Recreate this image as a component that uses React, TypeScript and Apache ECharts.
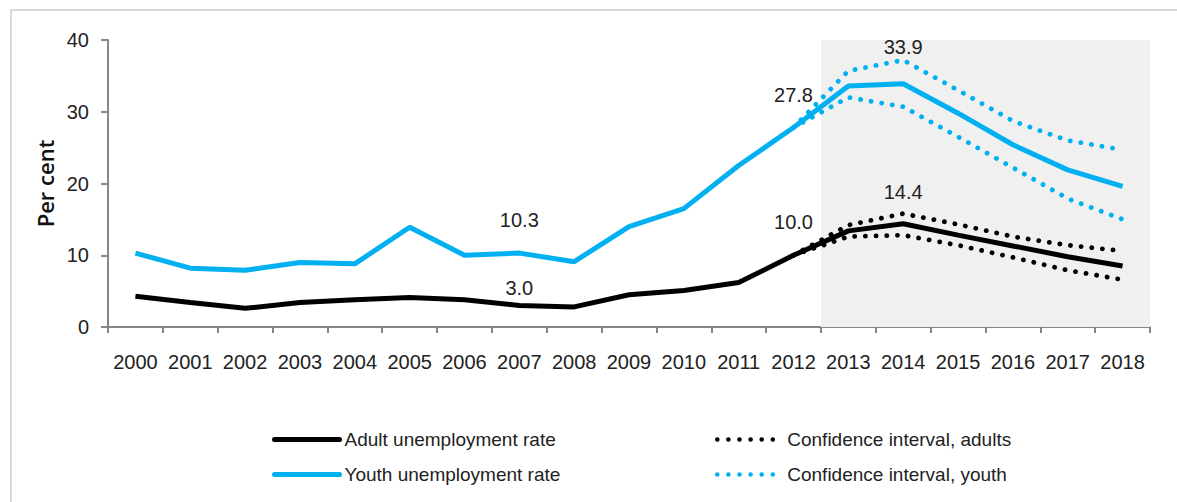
import React, { useEffect, useRef } from "react";
import * as echarts from "echarts";

const years = ["2000","2001","2002","2003","2004","2005","2006","2007","2008","2009","2010","2011","2012","2013","2014","2015","2016","2017","2018"];
const adultRate = [4.3,3.4,2.6,3.4,3.8,4.1,3.8,3.0,2.8,4.5,5.1,6.2,10.0,13.4,14.4,12.8,11.3,9.8,8.5];
const youthRate = [10.3,8.2,7.9,9.0,8.8,13.9,10.0,10.3,9.1,14.0,16.5,22.5,27.8,33.6,33.9,29.8,25.4,21.9,19.6];
const N = null;
const ciAdultUpper = [N,N,N,N,N,N,N,N,N,N,N,N,10.0,14.2,15.8,14.3,12.6,11.4,10.6];
const ciAdultLower = [N,N,N,N,N,N,N,N,N,N,N,N,10.0,12.6,12.8,11.4,9.7,7.9,6.6];
const ciYouthUpper = [N,N,N,N,N,N,N,N,N,N,N,N,27.8,35.7,37.2,33.0,28.7,26.0,24.7];
const ciYouthLower = [N,N,N,N,N,N,N,N,N,N,N,N,27.8,32.0,30.7,26.5,22.2,17.9,15.0];
const projectionShade = [N,N,N,N,N,N,N,N,N,N,N,N,N,40,40,40,40,40,40];
const labelledYears = ["2007", "2012", "2014"];
const yTicks = { min: 0, max: 40, interval: 10 };

const FONT = '"Liberation Sans", Arial, sans-serif';
const BLUE = "#00b0f0";
const BLACK = "#000000";

function withLabels(values: number[], dist: number[]) {
  return values.map((v, i) => {
    const k = labelledYears.indexOf(years[i]);
    if (k < 0) return v;
    return {
      value: v,
      label: {
        show: true,
        position: "top",
        distance: dist[k],
        formatter: (p: any) => Number(p.value).toFixed(1),
        fontFamily: FONT,
        fontSize: 20,
        color: "#222",
      },
    };
  });
}

export default function App() {
  const ref = useRef<HTMLDivElement>(null);
  useEffect(() => {
    if (!ref.current) return;
    const chart = echarts.init(ref.current, null, { renderer: "svg" });
    const dotted = (color: string) => ({
      color,
      width: 4.8,
      type: [0.1, 10.6],
      cap: "round",
    });
    const legendBase = {
      orient: "vertical",
      top: 430,
      padding: 0,
      itemHeight: 22,
      itemGap: 16,
      selectedMode: false,
      itemStyle: { opacity: 0 },
      textStyle: { fontFamily: FONT, fontSize: 19, color: "#222" },
    };
    chart.setOption({
      animation: false,
      backgroundColor: "#ffffff",
      graphic: [
        { type: "line", shape: { x1: 10, y1: 10, x2: 1177, y2: 10 }, style: { stroke: "#d9d9d9", lineWidth: 2 }, silent: true },
        { type: "line", shape: { x1: 11, y1: 10, x2: 11, y2: 502 }, style: { stroke: "#d9d9d9", lineWidth: 2 }, silent: true },
      ],
      grid: { left: 108, right: 27, top: 40, bottom: 175, containLabel: false },
      xAxis: {
        type: "category",
        data: years,
        boundaryGap: true,
        axisLine: { lineStyle: { color: "#868686", width: 2 } },
        axisTick: { show: true, length: 6, lineStyle: { color: "#868686", width: 2 } },
        axisLabel: { fontFamily: FONT, fontSize: 20, color: "#222", margin: 25, interval: 0 },
        splitLine: { show: false },
      },
      yAxis: {
        type: "value",
        min: yTicks.min,
        max: yTicks.max,
        interval: yTicks.interval,
        name: "Per cent",
        nameLocation: "middle",
        nameRotate: 90,
        nameGap: 51,
        nameTextStyle: { fontFamily: '"Open Sans", "Liberation Sans", sans-serif', fontSize: 22, fontWeight: 600, color: "#111" },
        axisLine: { show: true, lineStyle: { color: "#868686", width: 2 } },
        axisTick: { show: true, length: 7, lineStyle: { color: "#868686", width: 2 } },
        axisLabel: { fontFamily: FONT, fontSize: 20, color: "#222", margin: 19 },
        splitLine: { show: false },
      },
      legend: [
        {
          ...legendBase,
          data: ["Adult unemployment rate", "Youth unemployment rate"],
          left: 272,
          itemWidth: 65,
          lineStyle: { width: 5, cap: "round" },
        },
        {
          ...legendBase,
          data: ["Confidence interval, adults", "Confidence interval, youth"],
          left: 715,
          itemWidth: 65,
          lineStyle: { width: 4.5, type: [0.1, 11], cap: "round" },
        },
      ],
      series: [
        {
          name: "Projection",
          type: "bar",
          data: projectionShade,
          barWidth: "100%",
          itemStyle: { color: "#f0f0f0" },
          silent: true,
          z: 0,
        },
        { name: "Confidence interval, adults", type: "line", data: ciAdultUpper, symbol: "none", lineStyle: dotted(BLACK), itemStyle: { color: BLACK }, z: 2 },
        { name: "Confidence interval, adults", type: "line", data: ciAdultLower, symbol: "none", lineStyle: dotted(BLACK), itemStyle: { color: BLACK }, z: 2 },
        { name: "Confidence interval, youth", type: "line", data: ciYouthUpper, symbol: "none", lineStyle: dotted(BLUE), itemStyle: { color: BLUE }, z: 2 },
        { name: "Confidence interval, youth", type: "line", data: ciYouthLower, symbol: "none", lineStyle: dotted(BLUE), itemStyle: { color: BLUE }, z: 2 },
        {
          name: "Adult unemployment rate",
          type: "line",
          data: withLabels(adultRate, [7.5, 23, 22]),
          symbol: "circle",
          symbolSize: 0.01,
          showSymbol: true,
          lineStyle: { color: BLACK, width: 5 },
          itemStyle: { color: BLACK },
          z: 3,
        },
        {
          name: "Youth unemployment rate",
          type: "line",
          data: withLabels(youthRate, [23, 22.5, 27]),
          symbol: "circle",
          symbolSize: 0.01,
          showSymbol: true,
          lineStyle: { color: BLUE, width: 5 },
          itemStyle: { color: BLUE },
          z: 3,
        },
      ],
    });
    return () => chart.dispose();
  }, []);
  return (
    <div
      ref={ref}
      style={{ position: "fixed", left: 0, top: 0, width: 1177, height: 502 }}
    />
  );
}
